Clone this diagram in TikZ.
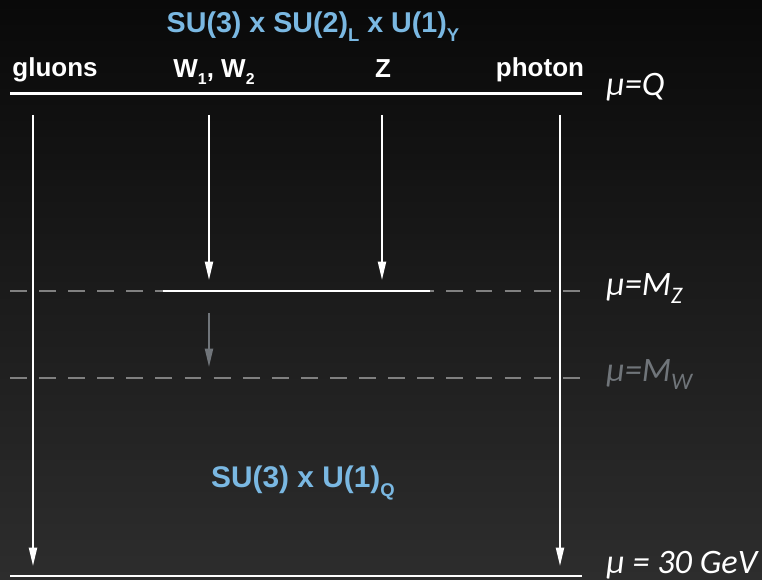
\documentclass[tikz,border=0pt]{standalone}
\usepackage{fontspec}
\setmainfont{Liberation Sans}
\newfontfamily\scalefont{Carlito}
\usetikzlibrary{arrows.meta}
\definecolor{bgtop}{RGB}{9,9,9}
\definecolor{bgbot}{RGB}{45,45,45}
\definecolor{groupblue}{RGB}{122,184,226}
\definecolor{dashgray}{RGB}{128,128,128}
\definecolor{fadegray}{RGB}{112,117,122}
\newcommand{\lowsub}[1]{\raisebox{-0.5ex}{\fontsize{9}{9}\selectfont #1}}
\newcommand{\groupsub}[1]{\raisebox{-0.55ex}{\fontsize{10.5}{11}\selectfont #1}}
\newcommand{\musub}[1]{\raisebox{-0.45ex}{\fontsize{13.5}{14}\selectfont #1}}

\begin{document}
\begin{tikzpicture}[x=0.02cm,y=-0.02cm,
  field/.style={font=\fontsize{14.8}{16}\selectfont\bfseries,text=white,anchor=base,inner sep=0pt},
  group/.style={font=\fontsize{16.3}{18}\selectfont\bfseries,text=groupblue,anchor=base,inner sep=0pt},
  scale label/.style={font=\fontsize{19.5}{21}\selectfont\scalefont\itshape,text=white,anchor=base west,inner sep=0pt},
  level/.style={white,line width=1.7pt},
  cutoff/.style={dashgray,line width=1.1pt,dash pattern=on 9.6pt off 6.96pt},
  flow/.style={white,line width=1.1pt,-{Triangle[length=10.5pt,width=4.6pt]}}]
  \shade[top color=bgtop,bottom color=bgbot] (0,0) rectangle (762,580);
  % labels on top
  \node[group] (unbroken) at (313,33) {SU(3) x SU(2)\groupsub{L} x U(1)\groupsub{Y}};
  \node[field] (gluons) at (55,77) {gluons};
  \node[field] (wbos) at (214,78) {W\lowsub{1}, W\lowsub{2}};
  \node[field] (zbos) at (383,78) {Z};
  \node[field] (photon) at (540,77) {photon};
  \node[group,font=\fontsize{17}{18}\selectfont\bfseries] (broken) at (303,488) {SU(3) x U(1)\groupsub{Q}};
  % scales
  \node[scale label] (muq) at (606,96) {μ=Q};
  \node[scale label] (mumz) at (606,296) {μ=M\musub{Z}};
  \node[scale label,text=fadegray] (mumw) at (606,382) {μ=M\musub{W}};
  \node[scale label] (mu30) at (606,574) {μ = 30 GeV};
  % levels
  \coordinate (topl) at (10,94);  \coordinate (topr) at (582,94);
  \coordinate (botl) at (10,576); \coordinate (botr) at (582,576);
  \coordinate (mzl) at (10,291);  \coordinate (mzr) at (582,291);
  \coordinate (mwl) at (10,378);  \coordinate (mwr) at (582,378);
  \coordinate (mixl) at (163,291); \coordinate (mixr) at (430,291);
  \draw[cutoff] (mzl) -- (mzr);
  \draw[cutoff] (mwl) -- (mwr);
  \draw[level] (topl) -- (topr);
  \draw[level] (botl) -- (botr);
  \draw[white,line width=1.3pt] (mixl) -- (mixr);
  % running
  \coordinate (gs) at (33,115);  \coordinate (ge) at (33,566);
  \coordinate (ws) at (209,115); \coordinate (we) at (209,280);
  \coordinate (zs) at (382,115); \coordinate (ze) at (382,280);
  \coordinate (ps) at (560,115); \coordinate (pe) at (560,566);
  \coordinate (rs) at (209,313); \coordinate (re) at (209,367);
  \draw[flow] (gs) -- (ge);
  \draw[flow] (ws) -- (we);
  \draw[flow] (zs) -- (ze);
  \draw[flow] (ps) -- (pe);
  \draw[flow,fadegray] (rs) -- (re);
\end{tikzpicture}
\end{document}
